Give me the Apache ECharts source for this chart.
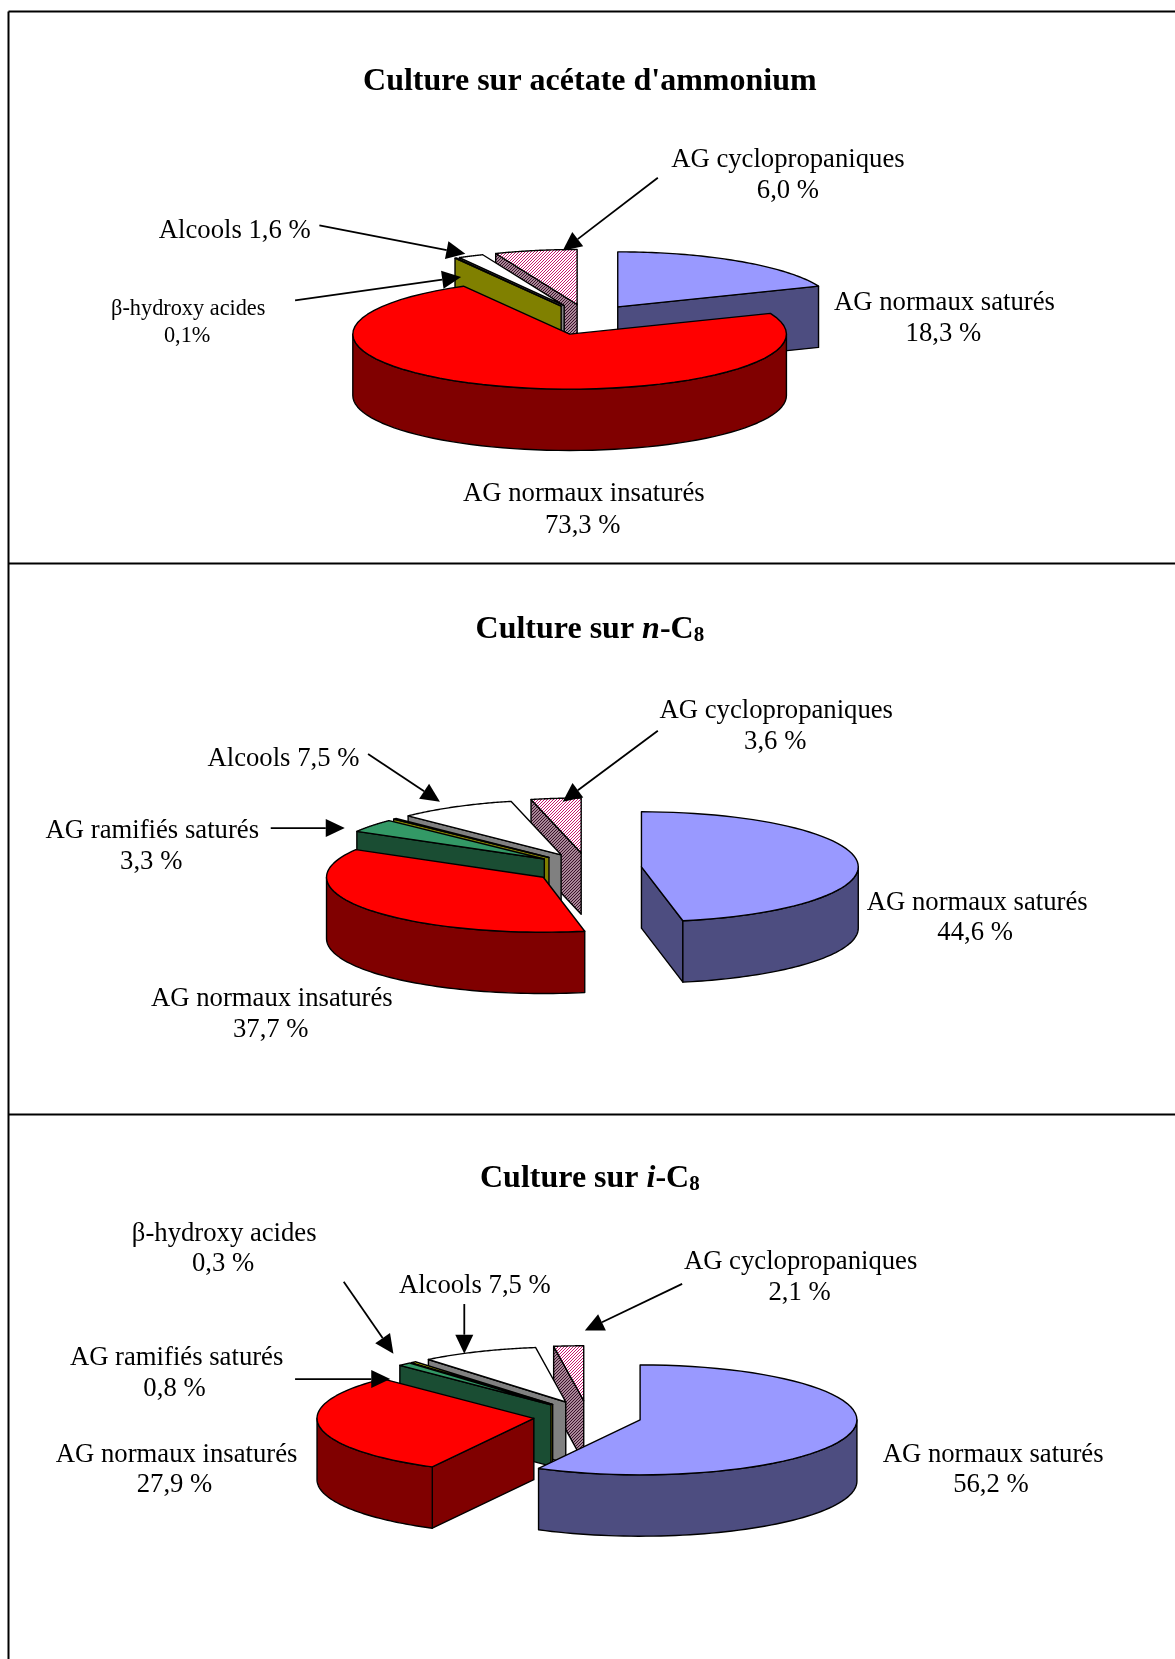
<!DOCTYPE html>
<html><head><meta charset="utf-8">
<style>html,body{margin:0;padding:0;background:#fff}#c{width:1175px;height:1659px}</style>
<script src="https://cdn.jsdelivr.net/npm/echarts@6/dist/echarts.min.js"></script>
</head><body><div id="c"></div>
<script>
// ---- data ----
const titles1 = 'Culture sur acétate d\'ammonium';
const titles2 = 'Culture sur {i|n}-C{s|8}';
const titles3 = 'Culture sur {i|i}-C{s|8}';

const cats1 = ['sat', 'insat', 'beta', 'alc', 'cyc'];
const values1 = [18.3, 73.3, 0.1, 1.6, 6.0];
const cats2 = ['sat', 'insat', 'ram', 'beta', 'alc', 'cyc'];
const values2 = [44.6, 37.7, 3.3, 0.2, 7.5, 3.6];
const cats3 = ['sat', 'insat', 'ram', 'beta', 'alc', 'cyc'];
const values3 = [56.2, 27.9, 0.8, 0.3, 7.5, 2.1];

// [text, x, y, size] in the 1111-wide drawing units
const labels1 = [
  ['AG cyclopropaniques',745,150],['6,0 %',745,179],
  ['Alcools 1,6 %',222,217],
  ['β-hydroxy acides',178,291,'s'],['0,1%',177,316,'s'],
  ['AG normaux saturés',893,285],['18,3 %',892,314],
  ['AG normaux insaturés',552,466],['73,3 %',551,496]
];
const labels2 = [
  ['AG cyclopropaniques',734,671],['3,6 %',733,700],
  ['Alcools 7,5 %',268,716],
  ['AG ramifiés saturés',144,784],['3,3 %',143,814],
  ['AG normaux saturés',924,852],['44,6 %',922,881],
  ['AG normaux insaturés',257,943],['37,7 %',256,972]
];
const labels3 = [
  ['β-hydroxy acides',212,1165],['0,3 %',211,1194],
  ['Alcools 7,5 %',449,1215],
  ['AG cyclopropaniques',757,1192],['2,1 %',756,1221],
  ['AG ramifiés saturés',167,1283],['0,8 %',165,1312],
  ['AG normaux insaturés',167,1374],['27,9 %',165,1403],
  ['AG normaux saturés',939,1374],['56,2 %',937,1403]
];
const arrows = [
  [622,168,532,237],[302,213,440,240],[279,284,436,262],
  [622,691,532,758],[348,713,416,758],[256,783,326,783],
  [645,1214,553,1258],[439,1233,439,1280],[325,1212,372,1280],[279,1304,369,1304]
];

// ---- styles ----
const U = 1175 / 1111;
const SERIF = '"Liberation Serif","Times New Roman",serif';
const LABEL_PX = 26.7, SMALL_PX = 22.3, TITLE_PX = 32;
const LABEL_DY = 1.5;
const PIE = { rx: 205*U, ry: 52*U, depth: 58*U, explodeX: 0.25, explodeY: 0.28, skewRight: 9, skewLeft: 9 };
const centers = [[555.5*U,302.2*U],[555.5*U,821*U],[555.5*U,1339*U]];

function hatch(fg, bg){
  const c = document.createElement('canvas'); c.width = c.height = 3;
  const g = c.getContext('2d');
  g.fillStyle = bg; g.fillRect(0,0,3,3);
  g.fillStyle = fg;
  for (let i=0;i<3;i++) g.fillRect(i,2-i,1,1);
  return {image:c, repeat:'repeat'};
}
const topFill = {
  sat:'#9999FF', insat:'#FF0000', ram:'#339966', beta:'#FFFF00', alc:'#FFFFFF',
  cyc:hatch('#C8146E','#FFFFFF')
};
const sideFill = {
  sat:'#4D4D80', insat:'#800000', ram:'#1A4D33', beta:'#808000', alc:'#808080',
  cyc:hatch('#3A1028','#A88898')
};

// ---- 3D exploded pie drawn by a custom series ----
// the reference's 3D projection pulls apparent angles toward the front of the pie
function projectAngle(t){
  if (t>60 && t<180) return t + PIE.skewRight*Math.sin(Math.PI*(t-60)/120);
  if (t>180 && t<340) return t - PIE.skewLeft*Math.sin(Math.PI*(t-180)/160);
  return t;
}
function rows(cats, values){
  const total = values.reduce((a,b)=>a+b,0);
  let acc = 0;
  const out = values.map((v,i)=>{
    const t0 = projectAngle(acc/total*360); acc += v; const t1 = projectAngle(acc/total*360);
    return {name:cats[i], value:[v,t0,t1]};
  });
  const dist = r => { const m=(r.value[1]+r.value[2])/2; return m>180?360-m:m; };
  return out.sort((a,b)=>dist(a)-dist(b));
}
const rad = d => d*Math.PI/180;
function pieSeries(cats, values, center){
  const data = rows(cats, values);
  return {
    type:'custom', coordinateSystem:'none', silent:true, animation:false,
    data,
    renderItem(params, api){
      const t0=api.value(1), t1=api.value(2), m=(t0+t1)/2, key=data[params.dataIndex].name;
      const ox = center[0]+Math.sin(rad(m))*PIE.explodeX*PIE.rx;
      const oy = center[1]-Math.cos(rad(m))*PIE.explodeY*PIE.ry;
      const P = (t,dz=0)=>[ox+PIE.rx*Math.sin(rad(t)), oy-PIE.ry*Math.cos(rad(t))+dz];
      const line = {stroke:'#000', lineWidth:1.4, lineJoin:'round'};
      const poly = (pts,fill)=>({type:'polygon',shape:{points:pts},style:Object.assign({fill},line)});
      const kids = [];
      const A=[ox,oy], B=[ox,oy+PIE.depth];
      if (Math.sin(rad(t0))<0) kids.push(poly([A,P(t0),P(t0,PIE.depth),B],sideFill[key]));
      if (Math.sin(rad(t1))>0) kids.push(poly([A,P(t1),P(t1,PIE.depth),B],sideFill[key]));
      const a=Math.max(t0,90), b=Math.min(t1,270);
      if (b>a){
        const up=[],dn=[];
        for(let k=0;k<=60;k++){ const t=a+(b-a)*k/60; up.push(P(t)); dn.unshift(P(t,PIE.depth)); }
        kids.push(poly(up.concat(dn),sideFill[key]));
      }
      const arc=[A];
      for(let k=0;k<=60;k++) arc.push(P(t0+(t1-t0)*k/60));
      kids.push(poly(arc,topFill[key]));
      return {type:'group',children:kids};
    }
  };
}

// ---- annotations ----
const graphics = [];
const frame = [[8.5,11.5,1175,11.5],[8.5,11.5,8.5,1659],[8.5,563.5,1175,563.5],[8.5,1114.5,1175,1114.5]];
frame.forEach(f=>graphics.push({type:'line',z:10,shape:{x1:f[0],y1:f[1],x2:f[2],y2:f[3]},style:{stroke:'#000',lineWidth:2},silent:true}));
[labels1,labels2,labels3].forEach(list=>list.forEach(l=>graphics.push({
  type:'text',z:10,silent:true,style:{text:l[0],x:l[1]*U,y:l[2]*U+LABEL_DY,textAlign:'center',textVerticalAlign:'middle',
  font:(l[3]==='s'?SMALL_PX:LABEL_PX)+'px '+SERIF,fill:'#000'}})));
arrows.forEach(a=>{
  const x1=a[0]*U,y1=a[1]*U,x2=a[2]*U,y2=a[3]*U,L=Math.hypot(x2-x1,y2-y1),ux=(x2-x1)/L,uy=(y2-y1)/L;
  const h=19,w=9,bx=x2-ux*h,by=y2-uy*h;
  graphics.push({type:'line',z:10,silent:true,shape:{x1,y1,x2:bx,y2:by},style:{stroke:'#000',lineWidth:1.8}});
  graphics.push({type:'polygon',z:10,silent:true,shape:{points:[[x2,y2],[bx-uy*w,by+ux*w],[bx+uy*w,by-ux*w]]},style:{fill:'#000'}});
});

function titleOpt(text,y){
  const base={fontFamily:SERIF,fontWeight:'bold',fontSize:TITLE_PX,color:'#000'};
  return {text,left:553*U,top:(y-18)*U,textAlign:'center',textStyle:Object.assign({},base,{rich:{
    i:Object.assign({},base,{fontStyle:'italic'}),
    s:Object.assign({},base,{fontSize:21,verticalAlign:'bottom',lineHeight:26})
  }})};
}
const chart = echarts.init(document.getElementById('c'));
chart.setOption({
  backgroundColor:'#fff', animation:false,
  title:[titleOpt(titles1,75),titleOpt(titles2,593.5),titleOpt(titles3,1113)],
  series:[pieSeries(cats1,values1,centers[0]),pieSeries(cats2,values2,centers[1]),pieSeries(cats3,values3,centers[2])],
  graphic:graphics
});
</script></body></html>
